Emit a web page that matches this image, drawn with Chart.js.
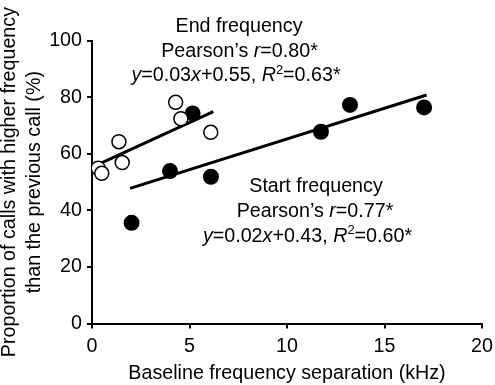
<!DOCTYPE html>
<html>
<head>
<meta charset="utf-8">
<script src="https://cdn.jsdelivr.net/npm/chart.js@4.4.1/dist/chart.umd.min.js"></script>
<style>
  html, body { margin: 0; padding: 0; background: #fff; }
</style>
</head>
<body>
<canvas id="chart" width="495" height="385"></canvas>
<script>
// values (x in kHz, y in %)
var endX = [0.32, 0.5, 1.38, 1.55, 4.29, 4.56, 6.09];
var endY = [54.9, 53.1, 64.3, 56.9, 78.2, 72.4, 67.6];
var startX = [2.03, 4.0, 5.16, 6.1, 11.74, 13.23, 17.03];
var startY = [35.6, 53.9, 74.3, 51.9, 67.8, 77.3, 76.4];
var endFitX = [0.24, 6.22];
var endFitY = [56.0, 74.9];
var startFitX = [1.95, 17.16];
var startFitY = [47.8, 80.8];
var xTicks = [0, 5, 10, 15, 20];
var yTicks = [0, 20, 40, 60, 80, 100];

function pts(xs, ys) {
  return xs.map(function(x, i) { return {x: x, y: ys[i]}; });
}

var FAMILY = "'Liberation Sans', Arial, Helvetica, sans-serif";
var SIZE = 19.7;
Chart.defaults.font.family = FAMILY;
Chart.defaults.font.size = SIZE;
Chart.defaults.color = '#000';

// annotation text, italic parts marked with i, superscripts with sup
var notes = [
  {cx: 239, y: 31.5, parts: [{t: 'End frequency'}]},
  {cx: 239.5, y: 56.5, parts: [{t: 'Pearson\u2019s '}, {t: 'r', i: true}, {t: '=0.80*'}]},
  {cx: 236, y: 81, parts: [{t: 'y', i: true}, {t: '=0.03'}, {t: 'x', i: true}, {t: '+0.55, '},
                           {t: 'R', i: true}, {t: '2', sup: true}, {t: '=0.63*'}]},
  {cx: 316, y: 191.5, parts: [{t: 'Start frequency'}]},
  {cx: 315, y: 217, parts: [{t: 'Pearson\u2019s '}, {t: 'r', i: true}, {t: '=0.77*'}]},
  {cx: 307.5, y: 241.5, parts: [{t: 'y', i: true}, {t: '=0.02'}, {t: 'x', i: true}, {t: '+0.43, '},
                              {t: 'R', i: true}, {t: '2', sup: true}, {t: '=0.60*'}]}
];

function partFont(p) {
  var s = p.sup ? 13 : SIZE;
  return (p.i ? 'italic ' : '') + s + 'px ' + FAMILY;
}

var notesPlugin = {
  id: 'notes',
  afterDraw: function(chart) {
    var ctx = chart.ctx;
    ctx.save();
    ctx.fillStyle = '#000';
    ctx.textBaseline = 'alphabetic';
    ctx.textAlign = 'left';
    notes.forEach(function(n) {
      var w = 0;
      n.parts.forEach(function(p) {
        ctx.font = partFont(p);
        p.w = ctx.measureText(p.t).width;
        w += p.w;
      });
      var x = n.cx - w / 2;
      n.parts.forEach(function(p) {
        ctx.font = partFont(p);
        ctx.fillText(p.t, x, p.sup ? n.y - 7.5 : n.y);
        x += p.w;
      });
    });
    ctx.restore();
  }
};

var axisCommon = {
  type: 'linear',
  border: {display: true, color: '#000', width: 2},
  grid: {display: true, drawOnChartArea: false, drawTicks: true, tickLength: 5, color: '#000', lineWidth: 2}
};

new Chart(document.getElementById('chart'), {
  type: 'scatter',
  data: {
    datasets: [
      {
        label: 'End frequency',
        data: pts(endX, endY),
        pointRadius: 7,
        pointBackgroundColor: '#fff',
        pointBorderColor: '#000',
        pointBorderWidth: 1.5
      },
      {
        label: 'Start frequency',
        data: pts(startX, startY),
        pointRadius: 8,
        pointBackgroundColor: '#000',
        pointBorderColor: '#000',
        pointBorderWidth: 0
      },
      {
        label: 'End fit',
        data: pts(endFitX, endFitY),
        showLine: true,
        pointRadius: 0,
        borderColor: '#000',
        borderWidth: 3
      },
      {
        label: 'Start fit',
        data: pts(startFitX, startFitY),
        showLine: true,
        pointRadius: 0,
        borderColor: '#000',
        borderWidth: 3
      }
    ]
  },
  options: {
    responsive: false,
    animation: false,
    layout: {padding: {top: 40.7, right: 13, bottom: 0, left: 0}},
    plugins: {
      legend: {display: false},
      tooltip: {enabled: false}
    },
    scales: {
      x: Object.assign({}, axisCommon, {
        min: 0,
        max: 20,
        afterBuildTicks: function(s) { s.ticks = xTicks.map(function(v) { return {value: v}; }); },
        afterFit: function(s) { s.height = 61.5; s.paddingLeft = 0; s.paddingRight = 0; },
        ticks: {padding: 6, color: '#000'},
        title: {
          display: true,
          text: 'Baseline frequency separation (kHz)',
          color: '#000',
          font: {size: SIZE, lineHeight: 1.2},
          padding: {top: 0, bottom: 0}
        }
      }),
      y: Object.assign({}, axisCommon, {
        min: 0,
        max: 100,
        afterBuildTicks: function(s) { s.ticks = yTicks.map(function(v) { return {value: v}; }); },
        afterFit: function(s) { s.width = 92; s.paddingTop = 0; s.paddingBottom = 0; },
        ticks: {padding: 5, color: '#000'},
        title: {
          display: true,
          text: ['Proportion of calls with higher frequency', 'than the previous call (%)'],
          color: '#000',
          font: {size: SIZE, lineHeight: '25px'},
          padding: {top: -2.5, bottom: 0}
        }
      })
    }
  },
  plugins: [notesPlugin]
});
</script>
</body>
</html>
